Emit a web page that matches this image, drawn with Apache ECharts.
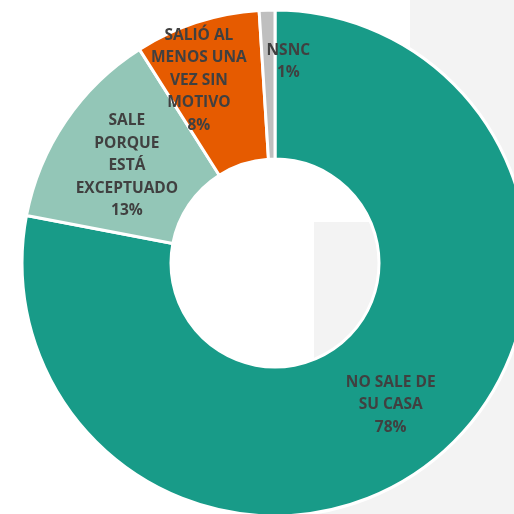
<!DOCTYPE html>
<html>
<head>
<meta charset="utf-8">
<script src="https://cdn.jsdelivr.net/npm/echarts@6/dist/echarts.min.js"></script>
<style>
  html, body { margin: 0; padding: 0; background: #fff; }
  #main { width: 514px; height: 514px; }
</style>
</head>
<body>
<div id="main"></div>
<script>
// categorías y valores (%)
var categorias = ['NO SALE DE\nSU CASA', 'SALE\nPORQUE\nESTÁ\nEXCEPTUADO', 'SALIÓ AL\nMENOS UNA\nVEZ SIN\nMOTIVO', 'NSNC'];
var valores = [78, 13, 8, 1];
var colores = ['#189b88', '#93c6b7', '#e65b00', '#bfbfbf'];
// desplazamiento de etiquetas como en el original
var desplazamientos = [[0, 2], [2, 5], [-20, -10], [19, -20]];

var chart = echarts.init(document.getElementById('main'));

var datos = categorias.map(function (c, i) {
    return {
        name: c,
        value: valores[i],
        itemStyle: { color: colores[i] },
        label: { offset: desplazamientos[i] }
    };
});

var option = {
    animation: false,
    backgroundColor: '#ffffff',
    graphic: [
        { type: 'rect', z: -10, shape: { x: 410, y: 0, width: 104, height: 514 }, style: { fill: '#f3f3f3' } },
        { type: 'rect', z: -10, shape: { x: 314, y: 222, width: 200, height: 292 }, style: { fill: '#f3f3f3' } }
    ],
    series: [{
        type: 'pie',
        center: [275, 263],
        radius: [104, 253],
        startAngle: 90,
        clockwise: true,
        avoidLabelOverlap: false,
        labelLayout: { hideOverlap: false },
        itemStyle: { borderColor: '#ffffff', borderWidth: 3 },
        label: {
            show: true,
            position: 'inside',
            color: '#404040',
            fontFamily: 'Open Sans',
            fontWeight: 'bold',
            fontSize: 15.5,
            lineHeight: 22.5,
            align: 'center',
            formatter: function (p) {
                return p.name + '\n' + Math.round(p.percent) + '%';
            }
        },
        labelLine: { show: false },
        data: datos
    }]
};

chart.setOption(option);
</script>
</body>
</html>
